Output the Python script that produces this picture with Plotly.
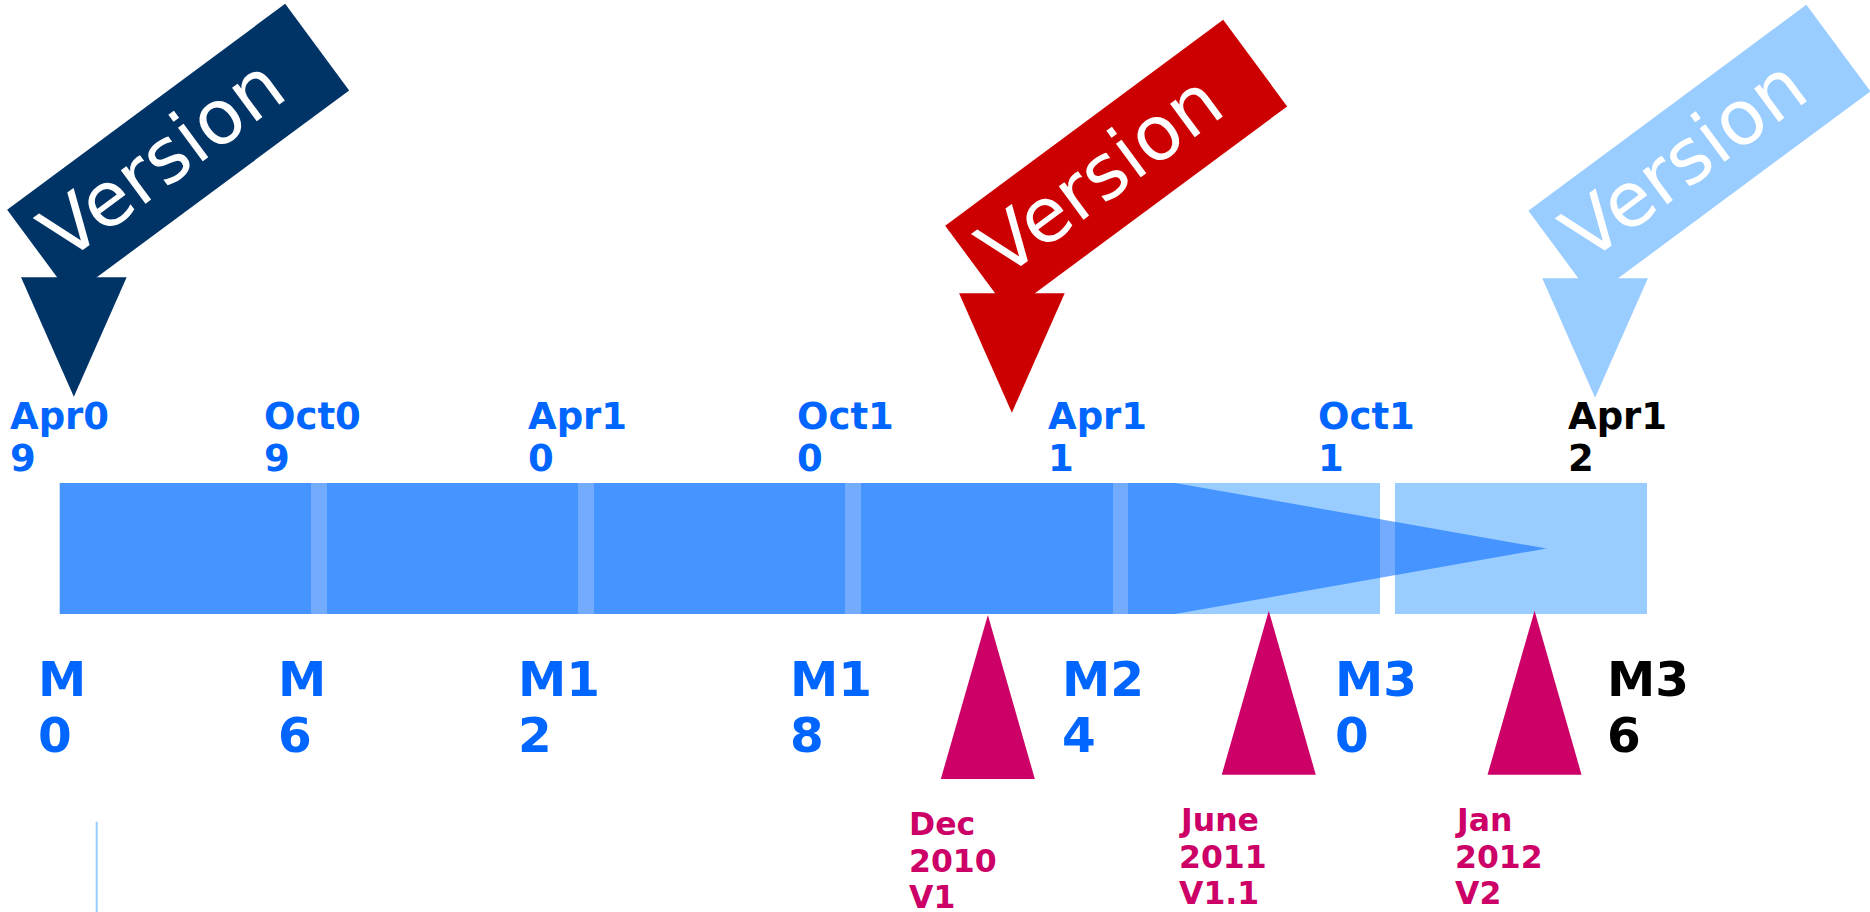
import plotly.graph_objects as go

# ---------------- data (months from the project start) ----------------
segment_start_months = [0, 6, 12, 18, 24, 30]          # six half-year blocks of the plan
segment_span_months = [6, 6, 6, 6, 6, 6]
progress_body_end_month = 25.05                         # solid part of the progress arrow
progress_tip_month = 33.4                               # tip of the progress arrow

date_labels = ["Apr09", "Oct09", "Apr10", "Oct10", "Apr11", "Oct11", "Apr12"]
date_label_months = [-1.11, 4.58, 10.53, 16.56, 22.21, 28.27, 33.89]

milestone_labels = ["M0", "M6", "M12", "M18", "M24", "M30", "M36"]
milestone_label_months = [-0.42, 4.97, 10.36, 16.47, 22.58, 28.72, 34.83]

release_labels = ["Dec 2010 V1", "June 2011 V1.1", "Jan 2012 V2"]
release_months = [20.85, 27.16, 33.13]
release_label_months = [19.08, 25.14, 31.34]

version_labels = ["Version", "Version", "Version"]
version_months = [0.32, 21.39, 34.49]

# ---------------- layout / style ----------------
W, H = 1870, 912
X0_PX = 59.6          # pixel of month 0
PXM = 44.52           # pixels per month
SEG_GAP = 0.35        # white gap between blocks (months)
BAR_TOP, BAR_BOT = 483, 614
BAR_MID = (BAR_TOP + BAR_BOT) / 2

LIGHT = "#99ccff"
BLUE = "#0066ff"
MAGENTA = "#cc0066"
FONT = "DejaVu Sans"

date_colors = [BLUE] * 6 + ["black"]
milestone_colors = [BLUE] * 6 + ["black"]
version_colors = ["#003366", "#cc0000", "#99ccff"]
version_tip_y = [396.7, 412.7, 397.7]

release_apex_y = [615, 610.7, 610.7]
release_base_y = [779, 774.7, 774.7]
release_first_baseline = [835, 831, 831]
RELEASE_HALF_W = 47 / PXM
RELEASE_FS = 31.5
RELEASE_STEP = 36.6

DATE_FS = 37
DATE_BASELINES = [429, 471.7]
MS_FS = 48.5
MS_BASELINES = [696, 751.7]

VERSION_FS = 76
VERSION_ANGLE = -36.5


def px(dx):
    return dx / PXM


def mid_from_baseline(b, fs):
    return b - 0.346 * fs


fig = go.Figure()

# light half-year blocks
fig.add_trace(go.Bar(
    orientation="h",
    base=segment_start_months,
    x=[s - SEG_GAP for s in segment_span_months],
    y=[BAR_MID] * len(segment_start_months),
    width=BAR_BOT - BAR_TOP,
    marker=dict(color=LIGHT, line=dict(width=0)),
    hoverinfo="skip",
))

# translucent progress arrow
fig.add_trace(go.Scatter(
    x=[0, progress_body_end_month, progress_tip_month, progress_body_end_month, 0, 0],
    y=[BAR_TOP, BAR_TOP, BAR_MID, BAR_BOT, BAR_BOT, BAR_TOP],
    mode="lines", line=dict(width=0), fill="toself",
    fillcolor="rgba(0,102,255,0.55)", hoverinfo="skip",
))

# release triangles
for m, ay, by in zip(release_months, release_apex_y, release_base_y):
    fig.add_trace(go.Scatter(
        x=[m, m + RELEASE_HALF_W, m - RELEASE_HALF_W, m],
        y=[ay, by, by, ay],
        mode="lines", line=dict(width=0), fill="toself",
        fillcolor=MAGENTA, hoverinfo="skip",
    ))

# "Version" ribbon arrows
ribbon = [(-66.7, -187.0), (211.3, -392.9), (275.3, -306.3), (-2.7, -100.4)]
head = [(-52.8, -119.4), (52.8, -119.4), (0.0, 0.0)]
for m, ty, col in zip(version_months, version_tip_y, version_colors):
    for poly in (ribbon, head):
        xs = [m + px(dx) for dx, dy in poly] + [m + px(poly[0][0])]
        ys = [ty + dy for dx, dy in poly] + [ty + poly[0][1]]
        fig.add_trace(go.Scatter(
            x=xs, y=ys, mode="lines", line=dict(width=0), fill="toself",
            fillcolor=col, hoverinfo="skip",
        ))

# thin light line at bottom-left
fig.add_trace(go.Scatter(
    x=[px(96.7 - X0_PX)] * 2, y=[821.7, H], mode="lines",
    line=dict(color=LIGHT, width=2), hoverinfo="skip",
))

ann = []


def add_text(x, y, text, size, color, xshift=0, weight="bold", anchor="left", angle=0):
    ann.append(dict(
        x=x, y=y, xref="x", yref="y", text=text, showarrow=False,
        xanchor=anchor, yanchor="middle", xshift=xshift, textangle=angle,
        font=dict(family=FONT, size=size, color=color, weight=weight),
    ))


for lab, m, col in zip(date_labels, date_label_months, date_colors):
    for line, b in zip([lab[:-1], lab[-1]], DATE_BASELINES):
        add_text(m, mid_from_baseline(b, DATE_FS), line, DATE_FS, col, xshift=-2)

for lab, m, col in zip(milestone_labels, milestone_label_months, milestone_colors):
    for line, b in zip([lab[:-1], lab[-1]], MS_BASELINES):
        add_text(m, mid_from_baseline(b, MS_FS), line, MS_FS, col, xshift=-5)

for lab, m, b0 in zip(release_labels, release_label_months, release_first_baseline):
    for i, line in enumerate(lab.split(" ")):
        add_text(m, mid_from_baseline(b0 + i * RELEASE_STEP, RELEASE_FS), line,
                 RELEASE_FS, MAGENTA, xshift=-2)

for lab, m, ty in zip(version_labels, version_months, version_tip_y):
    add_text(m + px(88), ty - 238.5, lab, VERSION_FS, "white",
             weight="normal", anchor="center", angle=VERSION_ANGLE)

fig.update_layout(
    width=W, height=H, autosize=False,
    margin=dict(l=0, r=0, t=0, b=0, pad=0),
    paper_bgcolor="white", plot_bgcolor="white",
    showlegend=False, annotations=ann,
    xaxis=dict(visible=False, range=[-X0_PX / PXM, (W - X0_PX) / PXM], fixedrange=True),
    yaxis=dict(visible=False, range=[H, 0], fixedrange=True),
    bargap=0,
)

fig.write_html("out.html", config={"displayModeBar": False},
               post_script="document.body.style.margin='0';document.body.style.overflow='hidden';")
